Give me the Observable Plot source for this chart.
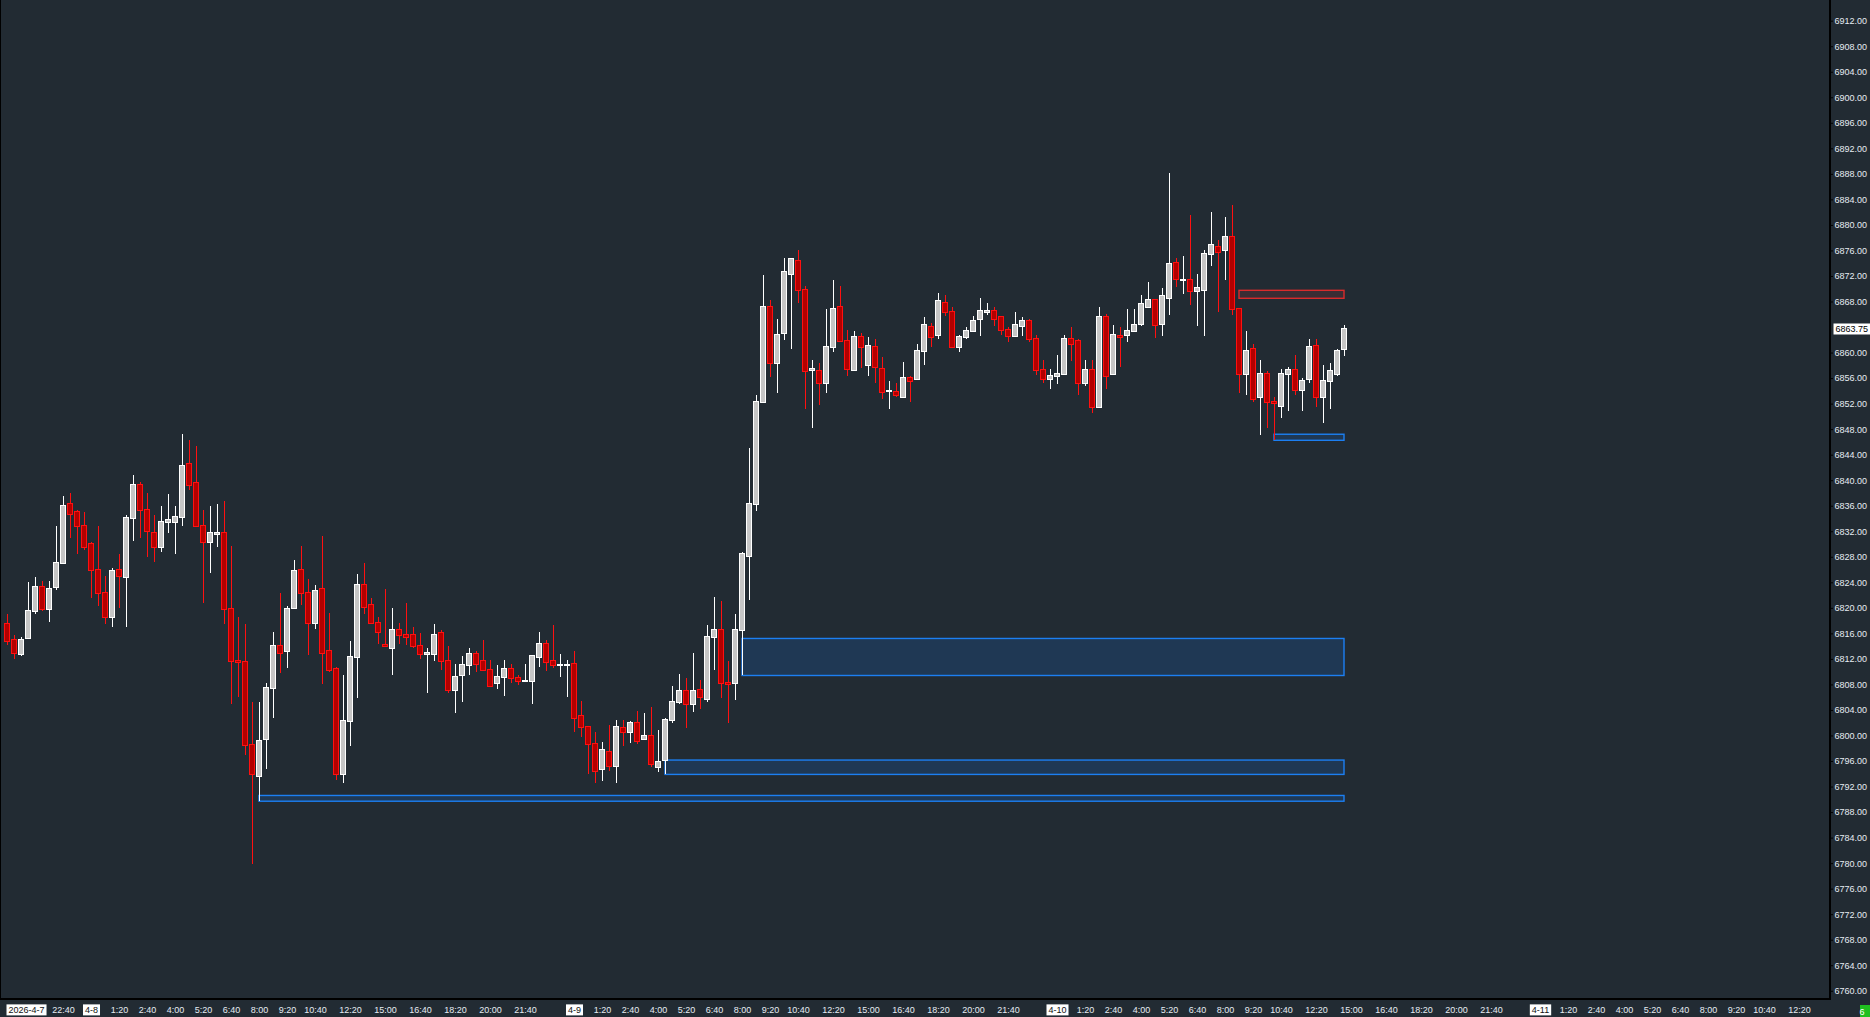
<!DOCTYPE html>
<html><head><meta charset="utf-8">
<script src="https://cdn.jsdelivr.net/npm/d3@7"></script>
<script src="https://cdn.jsdelivr.net/npm/@observablehq/plot@0.6"></script>
<style>
html,body{margin:0;padding:0;background:#222b33;}
#chart{width:1870px;height:1017px;overflow:hidden;position:relative;}
</style></head><body><div id="chart"></div>
<script>
// ---- candle data (20-minute bars, index 0 = 2026-4-7 20:00) ----
const opens = [6817.5,6814.9,6812.7,6815.2,6819.5,6823.2,6819.8,6823.2,6827.0,6836.2,
6835.0,6832.9,6830.0,6826.0,6822.3,6818.6,6826.0,6824.9,6834.0,6839.2,
6835.4,6831.7,6829.5,6833.4,6833.4,6834.2,6842.5,6839.5,6832.8,6830.3,
6831.6,6831.7,6819.8,6811.7,6811.5,6798.5,6793.6,6799.4,6807.4,6814.0,
6813.2,6819.9,6826.0,6822.4,6817.7,6822.9,6813.2,6810.4,6793.9,6802.2,
6812.3,6823.5,6820.4,6817.7,6814.1,6813.7,6816.6,6815.7,6815.7,6814.0,
6812.8,6812.7,6816.0,6811.6,6807.2,6809.4,6811.0,6812.7,6811.6,6810.2,
6808.2,6809.1,6810.4,6809.0,6808.6,6808.6,6812.3,6814.4,6811.6,6811.0,
6811.0,6811.2,6803.0,6801.4,6798.6,6794.7,6797.4,6795.2,6801.1,6800.6,
6801.9,6799.4,6799.9,6795.1,6796.1,6802.4,6805.3,6806.9,6804.9,6807.2,
6805.7,6815.4,6816.5,6808.25,6808.2,6816.6,6828.2,6836.2,6852.2,6867.2,
6858.3,6863.0,6872.3,6874.3,6869.8,6857.3,6857.1,6855.2,6860.8,6867.1,
6861.8,6857.2,6862.5,6858.0,6860.8,6857.5,6853.9,6853.8,6853.0,6856.0,
6855.8,6860.2,6864.0,6862.7,6867.7,6866.3,6860.8,6862.5,6863.3,6865.2,
6866.4,6866.5,6865.5,6863.5,6862.6,6864.2,6865.0,6862.1,6857.2,6855.8,
6856.4,6856.7,6862.2,6861.8,6855.2,6857.2,6851.4,6865.5,6856.7,6862.6,
6862.7,6863.3,6864.5,6867.2,6868.3,6864.5,6868.5,6874.0,6871.4,6871.3,
6869.6,6869.8,6875.5,6876.5,6876.0,6878.1,6866.8,6856.7,6860.5,6853.0,
6856.7,6852.2,6851.7,6856.7,6857.2,6854.2,6855.8,6861.0,6853.0,6855.5,
6856.7,6860.5];
const highs = [6819.0,6815.7,6815.4,6824.0,6824.8,6824.2,6824.2,6832.8,6837.5,6838.0,
6835.4,6835.0,6830.3,6832.8,6825.0,6826.2,6828.4,6834.5,6840.8,6839.7,
6838.0,6834.5,6836.0,6837.8,6836.0,6847.2,6846.3,6845.4,6835.3,6836.0,
6836.3,6836.7,6829.7,6818.6,6817.5,6805.2,6805.2,6808.2,6816.2,6822.3,
6820.3,6827.5,6829.7,6824.5,6823.6,6831.25,6819.2,6810.7,6809.5,6814.8,
6825.3,6827.0,6821.5,6818.5,6822.9,6819.9,6817.7,6820.7,6817.0,6816.0,
6813.7,6817.5,6816.6,6814.0,6811.2,6812.4,6813.7,6813.2,6815.0,6811.9,
6811.0,6811.9,6811.2,6809.4,6811.2,6812.4,6816.2,6814.9,6817.3,6812.7,
6811.9,6813.2,6805.4,6801.4,6800.5,6799.0,6801.7,6802.4,6802.4,6802.2,
6803.9,6803.6,6804.4,6800.9,6802.7,6807.8,6809.7,6809.0,6812.9,6808.7,
6817.3,6821.7,6821.1,6811.7,6819.0,6828.7,6845.0,6853.4,6872.2,6868.3,
6865.2,6874.8,6874.8,6876.0,6870.5,6858.9,6858.3,6866.8,6871.3,6870.5,
6863.5,6863.4,6863.0,6862.5,6862.1,6859.3,6855.5,6855.2,6858.5,6856.4,
6861.3,6865.5,6864.6,6869.3,6869.0,6867.1,6862.7,6864.0,6865.8,6868.5,
6867.7,6867.1,6865.8,6864.0,6866.3,6865.5,6865.2,6862.7,6858.9,6857.5,
6859.6,6862.7,6864.0,6862.1,6858.8,6858.9,6867.1,6866.0,6864.3,6864.0,
6866.8,6866.8,6869.0,6871.0,6868.3,6870.1,6888.1,6874.8,6875.2,6881.5,
6872.3,6876.0,6882.0,6877.7,6881.3,6883.1,6866.8,6863.3,6861.3,6858.9,
6857.1,6853.0,6857.5,6857.7,6859.6,6856.0,6862.2,6862.1,6858.0,6858.3,
6860.5,6864.3];
const lows = [6814.1,6812.0,6812.4,6815.2,6819.1,6819.5,6817.8,6822.8,6827.0,6830.9,
6828.5,6829.1,6821.6,6820.3,6817.5,6817.0,6820.0,6817.0,6830.5,6830.9,
6828.0,6827.2,6828.8,6831.8,6828.5,6832.9,6838.5,6832.6,6820.8,6825.5,
6829.6,6817.5,6805.0,6806.1,6797.0,6779.9,6789.7,6794.8,6802.8,6809.8,
6810.5,6819.9,6820.5,6812.6,6816.7,6808.0,6809.9,6793.1,6792.5,6798.3,
6805.8,6819.1,6817.6,6814.3,6813.8,6809.5,6814.3,6814.1,6813.7,6812.0,
6806.7,6811.6,6810.3,6806.7,6803.6,6805.3,6809.5,6809.9,6810.1,6807.7,
6807.3,6806.2,6808.3,6807.9,6808.5,6805.0,6810.8,6810.1,6810.5,6809.1,
6806.1,6800.6,6799.8,6794.0,6792.5,6792.8,6794.4,6792.5,6798.3,6798.8,
6798.6,6799.4,6795.0,6794.3,6793.9,6801.9,6805.0,6801.1,6803.7,6804.2,
6805.3,6810.3,6805.8,6801.9,6805.5,6809.5,6821.3,6835.1,6852.2,6856.1,
6853.6,6861.9,6860.6,6867.7,6851.1,6848.1,6851.8,6853.6,6860.1,6861.6,
6856.4,6857.2,6857.6,6856.4,6855.3,6852.8,6851.1,6853.1,6853.0,6852.2,
6855.7,6858.1,6860.9,6862.2,6865.7,6860.7,6860.1,6862.2,6863.3,6862.6,
6865.9,6864.1,6862.8,6861.6,6862.6,6862.6,6861.6,6856.5,6855.3,6854.3,
6855.1,6856.5,6858.6,6853.4,6854.8,6850.6,6851.4,6854.3,6856.6,6857.8,
6861.6,6863.3,6864.1,6867.2,6862.3,6862.6,6865.9,6870.2,6869.1,6867.4,
6864.1,6862.6,6873.5,6866.4,6871.4,6865.9,6853.6,6853.4,6852.2,6847.1,
6848.1,6846.3,6849.8,6850.9,6853.4,6850.9,6855.3,6851.5,6848.9,6851.1,
6856.4,6859.4];
const closes = [6814.8,6812.9,6814.9,6819.5,6823.2,6819.8,6822.9,6827.0,6835.9,6834.7,
6832.8,6829.6,6826.0,6822.3,6818.5,6825.7,6825.0,6834.0,6839.2,6835.4,
6832.0,6829.5,6833.4,6833.8,6834.2,6842.2,6839.2,6832.9,6830.3,6831.7,
6831.7,6819.8,6811.7,6811.5,6798.5,6793.9,6799.2,6807.4,6814.0,6812.9,
6819.8,6825.7,6822.4,6817.7,6822.7,6812.9,6810.2,6793.9,6802.2,6812.3,
6823.5,6820.2,6817.7,6816.2,6814.0,6816.6,6815.7,6815.4,6814.0,6812.7,
6812.9,6815.7,6811.6,6807.2,6809.1,6811.0,6812.7,6811.2,6810.2,6807.7,
6809.1,6810.4,6809.0,6808.5,6808.6,6812.4,6814.4,6811.5,6811.0,6811.1,
6811.1,6802.7,6801.4,6798.6,6794.4,6797.7,6795.2,6801.4,6800.6,6801.9,
6799.2,6799.9,6795.6,6795.9,6802.4,6805.2,6806.9,6804.9,6806.9,6806.0,
6815.4,6816.6,6808.2,6808.0,6816.6,6828.4,6836.2,6852.2,6867.2,6858.3,
6862.7,6872.6,6874.6,6869.8,6857.1,6857.4,6855.2,6860.8,6866.8,6861.8,
6857.5,6862.5,6860.8,6861.0,6857.7,6853.8,6854.0,6853.3,6856.0,6855.5,
6860.2,6864.3,6862.5,6868.0,6866.3,6860.9,6862.5,6863.3,6865.0,6866.5,
6866.5,6865.2,6863.5,6862.6,6864.3,6865.0,6862.2,6857.2,6855.8,6856.4,
6856.7,6862.2,6861.4,6855.2,6857.2,6851.4,6865.5,6856.4,6862.7,6862.5,
6863.3,6864.3,6867.6,6868.3,6864.3,6868.8,6873.8,6871.5,6871.4,6869.6,
6870.1,6875.5,6876.8,6875.7,6878.1,6866.8,6856.7,6860.2,6852.7,6856.7,
6852.2,6852.1,6856.7,6857.2,6854.2,6855.5,6860.8,6853.0,6855.5,6857.1,
6860.2,6863.75];

// ---- supply / demand zones ----
const zoneStart = [36, 94, 105, 176, 181];
const zoneEnd   = [191, 191, 191, 191, 191];
const zoneLow   = [6789.7, 6793.9, 6809.4, 6868.5, 6846.25];
const zoneHigh  = [6790.6, 6796.15, 6815.2, 6869.75, 6847.2];
const zoneSide  = ["demand", "demand", "demand", "supply", "demand"];

// ---- axis labels ----
const yTicks = [6760,6764,6768,6772,6776,6780,6784,6788,6792,6796,6800,6804,6808,6812,6816,6820,
6824,6828,6832,6836,6840,6844,6848,6852,6856,6860,6868,6872,6876,6880,6884,6888,6892,6896,
6900,6904,6908,6912];
const xTickIdx = [8,12,16,20,24,28,32,36,40,44,49,54,59,64,69,74,
81,85,89,93,97,101,105,109,113,118,123,128,133,138,143,
150,154,158,162,166,170,174,178,182,187,192,197,202,207,212,
219,223,227,231,235,239,243,247,251,256];
const xTickText = ["22:40","4-8","1:20","2:40","4:00","5:20","6:40","8:00","9:20","10:40","12:20","15:00","16:40","18:20","20:00","21:40",
"4-9","1:20","2:40","4:00","5:20","6:40","8:00","9:20","10:40","12:20","15:00","16:40","18:20","20:00","21:40",
"4-10","1:20","2:40","4:00","5:20","6:40","8:00","9:20","10:40","12:20","15:00","16:40","18:20","20:00","21:40",
"4-11","1:20","2:40","4:00","5:20","6:40","8:00","9:20","10:40","12:20"];
const firstDateLabel = "2026-4-7";

// ---- build tables ----
const candles = opens.map((o, i) => ({i, o, h: highs[i], l: lows[i], c: closes[i], up: closes[i] >= o}));
const zones = zoneStart.map((s, k) => ({s, e: zoneEnd[k], lo: zoneLow[k], hi: zoneHigh[k], side: zoneSide[k]}));
const xLabels = xTickIdx.map((x, k) => ({x, t: xTickText[k], date: xTickText[k].includes("-")}));
const lastPrice = closes[closes.length - 1];

const UP_FILL = "#c6c6c6", UP_LINE = "#ffffff", DN_FILL = "#b30000", DN_LINE = "#ff1010";
const TXT = "#e6ecf2";
const half = 0.3;

const chart = Plot.plot({
  width: 1870, height: 1017,
  marginLeft: 0, marginRight: 41, marginTop: 0, marginBottom: 18,
  style: {background: "#222b33", color: TXT, fontFamily: "'Liberation Sans', Arial, sans-serif", fontSize: "9px", overflow: "visible"},
  x: {domain: [-1, 1822/7], axis: null},
  y: {domain: [6758.71, 6915.24], axis: null},
  color: {type: "identity"},
  marks: [
    Plot.rect(zones, {x1: "s", x2: "e", y1: "lo", y2: "hi",
      fill: d => d.side === "supply" ? "#3a2d34" : "#1f3854",
      stroke: d => d.side === "supply" ? "#d92b2b" : "#1c7ff2", strokeWidth: 1.4}),
    Plot.ruleX(candles, {x: "i", y1: "l", y2: "h", stroke: d => d.up ? UP_LINE : DN_LINE, strokeWidth: 1, shapeRendering: "crispEdges"}),
    Plot.rect(candles, {x1: d => d.i - half, x2: d => d.i + half, y1: "o", y2: "c",
      fill: d => d.up ? UP_FILL : DN_FILL, stroke: d => d.up ? UP_LINE : DN_LINE, strokeWidth: 1,
      insetTop: -0.5, insetBottom: -0.5, shapeRendering: "crispEdges"}),
    Plot.axisY(yTicks, {anchor: "right", tickSize: 3, tickPadding: 2, stroke: "#000", fill: TXT,
      tickFormat: d => d.toFixed(2), fontSize: 9}),
    Plot.text(xLabels.filter(d => !d.date), {x: "x", text: "t", frameAnchor: "bottom", dy: 10.5, lineAnchor: "middle", fill: TXT, fontSize: 9}),
    Plot.text(xLabels.filter(d => d.date), {x: "x", text: "t", frameAnchor: "bottom", dy: 10.5, lineAnchor: "middle", fill: "#111", fontSize: 9}),
    Plot.text([firstDateLabel], {x: () => 0, text: d => d, frameAnchor: "bottom", dy: 10.5, dx: 1, textAnchor: "start", lineAnchor: "middle", fill: "#111", fontSize: 9}),
    Plot.text([lastPrice], {y: d => d, text: d => d.toFixed(2), frameAnchor: "right", dx: 6, textAnchor: "start", lineAnchor: "middle", fill: "#000", fontSize: 9})
  ]
});

document.getElementById("chart").append(chart);

// white badges behind the date labels and the last-price label
const boxed = new Set([firstDateLabel, lastPrice.toFixed(2), ...xLabels.filter(d => d.date).map(d => d.t)]);
const svgRect = chart.getBoundingClientRect();
const svg = d3.select(chart);
const targets = Array.from(chart.querySelectorAll("text")).filter(t => boxed.has(t.textContent) && t.getAttribute("fill") !== TXT);
targets.forEach(node => {
  const r = node.getBoundingClientRect();
  const padX = 2, padY = 0.5;
  const g = node.parentNode;
  svg.insert("rect", () => g)
    .attr("x", r.left - svgRect.left - padX).attr("y", r.top - svgRect.top - padY)
    .attr("width", r.width + 2 * padX).attr("height", r.height + 2 * padY)
    .attr("fill", "#ffffff");
});

// chart frame lines (axis rules) and status box
svg.append("line").attr("x1", 0.5).attr("x2", 0.5).attr("y1", 0).attr("y2", 999).attr("stroke", "#000").attr("stroke-width", 1);
svg.append("line").attr("x1", 1830).attr("x2", 1830).attr("y1", 0).attr("y2", 1000).attr("stroke", "#000").attr("stroke-width", 2);
svg.append("line").attr("x1", 0).attr("x2", 1830).attr("y1", 999).attr("y2", 999).attr("stroke", "#000").attr("stroke-width", 2);
svg.append("rect").attr("x", 1860).attr("y", 1005).attr("width", 10).attr("height", 12).attr("fill", "#1fbf1f");
svg.append("text").attr("x", 1862).attr("y", 1014.5).attr("fill", "#fff").attr("font-size", 9).text("6");
</script>
</body></html>
